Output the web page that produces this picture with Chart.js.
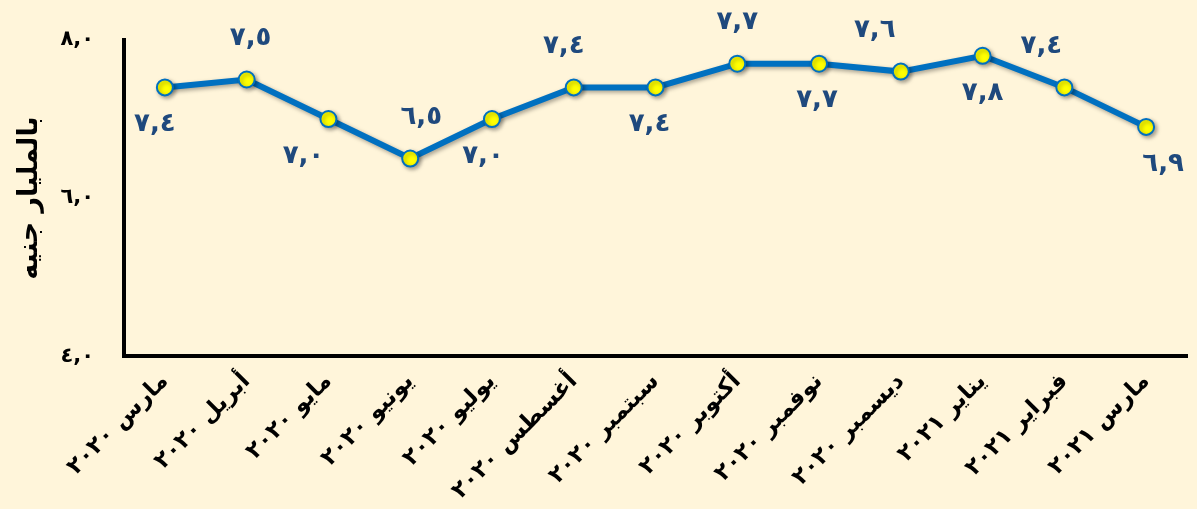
<!DOCTYPE html>
<html lang="ar">
<head>
<meta charset="utf-8">
<script src="https://cdn.jsdelivr.net/npm/chart.js@4.4.0/dist/chart.umd.min.js"></script>
<style>
  html, body { margin: 0; padding: 0; background: #FFF5DA; }
  .chart-container { width: 1197px; height: 509px; position: relative; }
</style>
</head>
<body>
<div class="chart-container"><canvas id="Chart"></canvas></div>
<script>
// الشهور (محور س)
const labels = ['مارس ٢٠٢٠', 'أبريل ٢٠٢٠', 'مايو ٢٠٢٠', 'يونيو ٢٠٢٠', 'يوليو ٢٠٢٠', 'أغسطس ٢٠٢٠',
  'سبتمبر ٢٠٢٠', 'أكتوبر ٢٠٢٠', 'نوفمبر ٢٠٢٠', 'ديسمبر ٢٠٢٠', 'يناير ٢٠٢١', 'فبراير ٢٠٢١', 'مارس ٢٠٢١'];
// بالمليار جنيه
const values = [7.4, 7.5, 7.0, 6.5, 7.0, 7.4, 7.4, 7.7, 7.7, 7.6, 7.8, 7.4, 6.9];
const yTicks = [4, 6, 8];

const arDigits = '٠١٢٣٤٥٦٧٨٩';
function toArabic(v) {
  return v.toFixed(1).replace('.', ',').replace(/\d/g, d => arDigits[d]);
}

const ARFONT = "'DejaVu Sans', sans-serif";

// decalage horizontal des etiquettes pour ne pas chevaucher la ligne
const labelDx = [-10, 4, -25, 11, -9, -10, -6, 0, -2, -26, 0, -23, 17];

const labelsPlugin = {
  id: 'pointLabels',
  beforeDatasetsDraw(chart) {
    const ctx = chart.ctx;
    ctx.save();
    ctx.shadowColor = 'rgba(0,0,0,0.35)';
    ctx.shadowBlur = 4;
    ctx.shadowOffsetX = 2;
    ctx.shadowOffsetY = 2;
  },
  afterDatasetsDraw(chart) {
    const ctx = chart.ctx;
    ctx.restore();
    const meta = chart.getDatasetMeta(0);
    ctx.save();
    ctx.font = 'bold 26px ' + ARFONT;
    ctx.fillStyle = '#1F497D';
    ctx.textAlign = 'center';
    ctx.textBaseline = 'middle';
    meta.data.forEach((pt, i) => {
      const dy = i % 2 === 0 ? 37 : -41;
      ctx.fillText(toArabic(values[i]), pt.x + labelDx[i], pt.y + dy);
    });
    ctx.restore();
  }
};

new Chart(document.getElementById('Chart').getContext('2d'), {
  type: 'line',
  data: {
    labels: labels,
    datasets: [{
      data: values,
      borderColor: '#0070C0',
      borderWidth: 6,
      pointRadius: 8,
      pointHoverRadius: 8,
      pointBackgroundColor: '#FFFF00',
      pointBorderColor: '#0070C0',
      pointBorderWidth: 2,
      tension: 0
    }]
  },
  options: {
    responsive: true,
    maintainAspectRatio: false,
    animation: false,
    layout: { padding: { top: 40, left: 14, right: 0, bottom: 0 } },
    plugins: { legend: { display: false }, tooltip: { enabled: false } },
    scales: {
      x: {
        offset: true,
        grid: { display: false },
        border: { display: true, color: '#000', width: 4 },
        ticks: {
          color: '#000',
          font: { family: ARFONT, weight: 'bold', size: 23 },
          minRotation: 45,
          maxRotation: 45,
          padding: 4
        }
      },
      y: {
        min: 4,
        max: 8,
        afterBuildTicks(axis) { axis.ticks = yTicks.map(v => ({ value: v })); },
        grid: { display: false },
        border: { display: true, color: '#000', width: 4 },
        ticks: {
          color: '#000',
          font: { family: ARFONT, weight: 'bold', size: 21 },
          padding: 22,
          callback: v => toArabic(v)
        },
        title: {
          display: true,
          text: 'بالمليار جنيه',
          color: '#000',
          font: { family: ARFONT, weight: 'bold', size: 27 },
          padding: { top: 0, bottom: -8 }
        }
      }
    }
  },
  plugins: [labelsPlugin]
});
</script>
</body>
</html>
